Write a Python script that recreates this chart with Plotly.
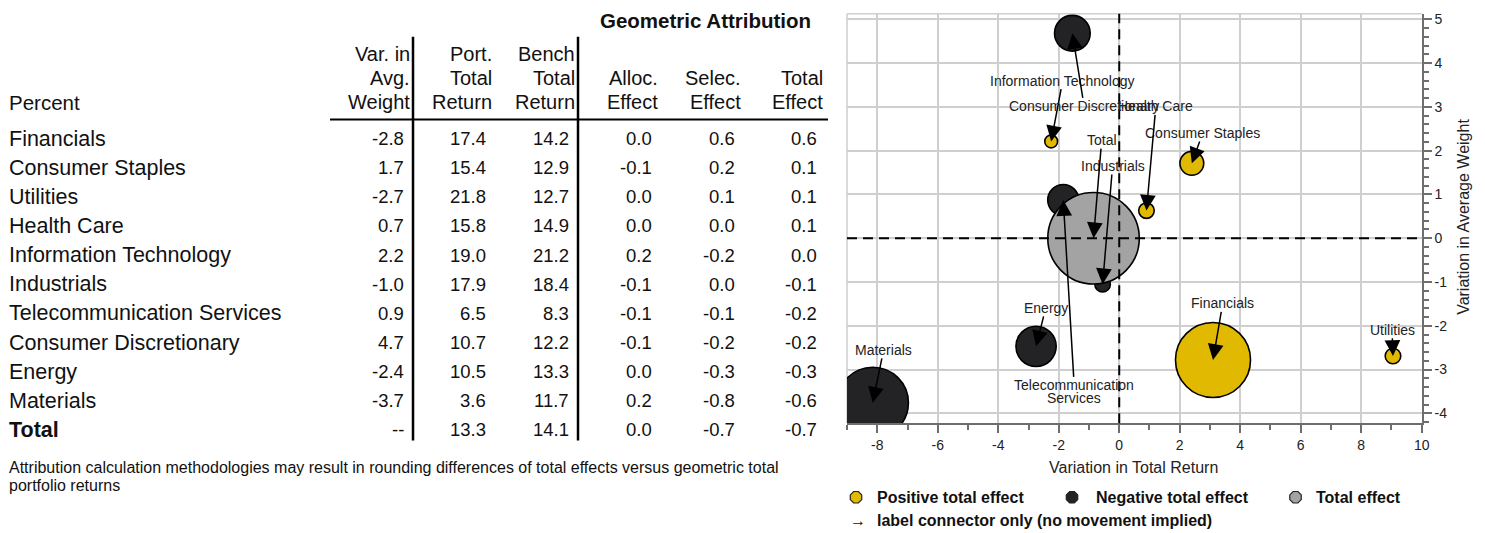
import math
import plotly.graph_objects as go

# ---------------- data (table) ----------------
sectors = ["Financials", "Consumer Staples", "Utilities", "Health Care",
           "Information Technology", "Industrials", "Telecommunication Services",
           "Consumer Discretionary", "Energy", "Materials", "Total"]
var_avg_weight = [-2.8, 1.7, -2.7, 0.7, 2.2, -1.0, 0.9, 4.7, -2.4, -3.7, None]
port_total_return = [17.4, 15.4, 21.8, 15.8, 19.0, 17.9, 6.5, 10.7, 10.5, 3.6, 13.3]
bench_total_return = [14.2, 12.9, 12.7, 14.9, 21.2, 18.4, 8.3, 12.2, 13.3, 11.7, 14.1]
alloc_effect = [0.0, -0.1, 0.0, 0.0, 0.2, -0.1, -0.1, -0.1, 0.0, 0.2, 0.0]
selec_effect = [0.6, 0.2, 0.1, 0.0, -0.2, 0.0, -0.1, -0.2, -0.3, -0.8, -0.7]
total_effect = [0.6, 0.1, 0.1, 0.1, 0.0, -0.1, -0.2, -0.2, -0.3, -0.6, -0.7]

# ---------------- data (bubble chart) ----------------
bubble_return_var = [3.1, 2.4, 9.05, 0.9, -2.25, -0.55, -1.85, -1.55, -2.75, -8.15, -0.85]
bubble_weight_var = [-2.78, 1.71, -2.69, 0.63, 2.21, -1.05, 0.87, 4.68, -2.47, -3.76, 0.0]
bubble_rel_size = [0.82, 0.26, 0.17, 0.17, 0.14, 0.17, 0.34, 0.39, 0.44, 0.78, 1.0]
bubble_group = ["pos", "pos", "pos", "pos", "pos", "neg", "neg", "neg", "neg", "neg", "total"]

x_tick_vals = [-8, -6, -4, -2, 0, 2, 4, 6, 8, 10]
x_tick_text = ["-8", "-6", "-4", "-2", "0", "2", "4", "6", "8", "10"]
y_tick_vals = [-4, -3, -2, -1, 0, 1, 2, 3, 4, 5]
y_tick_text = ["-4", "-3", "-2", "-1", "0", "1", "2", "3", "4", "5"]

legend_labels = ["Positive total effect", "Negative total effect", "Total effect"]
connector_note = "label connector only (no movement implied)"
footnote_lines = ["Attribution calculation methodologies may result in rounding differences of total effects versus geometric total",
                  "portfolio returns"]

# ---------------- styling / layout ----------------
W, H = 1485, 533
OX, OY, SC = 8, 9, 0.9946     # page offset / horizontal scale of the rendered figure
F = "Liberation Sans, Arial, Helvetica, sans-serif"
TXT = "#111111"
COLORS = {"pos": "#E1B900", "neg": "#232326", "total": "#A3A3A3"}
GRID = "#cfcfcf"
AXC = "#6e6e6e"


def px_x(p):
    return ((p - OX) / SC) / W


def px_y(p):
    return 1 - (p - OY) / H


annotations = []
shapes = []


def ann(text, px, py, size, anchor="left", family=F, color=TXT):
    annotations.append(dict(text=text, x=px_x(px), y=px_y(py), xref="paper", yref="paper",
                            xanchor=anchor, yanchor="middle", showarrow=False, borderpad=0,
                            font=dict(family=family, size=size, color=color)))


# ---- table ----
ann("<b>Geometric Attribution</b>", 705.5, 18.5, 20.5, anchor="center")
header_cols = [["Var. in", "Avg.", "Weight"], ["Port.", "Total", "Return"], ["Bench", "Total", "Return"],
               ["", "Alloc.", "Effect"], ["", "Selec.", "Effect"], ["", "Total", "Effect"]]
header_right = [411, 493, 576, 659, 742, 824]
value_right = [405, 487, 570, 653, 736, 818]
header_y = [52.5, 76.5, 101]
for col, xr in zip(header_cols, header_right):
    for line, yy in zip(col, header_y):
        if line:
            ann(line, xr, yy, 20, anchor="right")
ann("Percent", 8, 101, 20.5)

columns = [var_avg_weight, port_total_return, bench_total_return, alloc_effect, selec_effect, total_effect]
for i, name in enumerate(sectors):
    yy = 137.3 + 29.3 * i
    label = "<b>%s</b>" % name if name == "Total" else name
    ann(label, 8, yy, 21.5)
    for col, xr in zip(columns, value_right):
        v = col[i]
        ann("--" if v is None else "%.1f" % v, xr, yy, 18.5, anchor="right")

shapes.append(dict(type="line", xref="paper", yref="paper", x0=px_x(330), x1=px_x(828),
                   y0=px_y(118), y1=px_y(118), line=dict(color="#000", width=2)))
for xv in (413, 578):
    shapes.append(dict(type="line", xref="paper", yref="paper", x0=px_x(xv), x1=px_x(xv),
                       y0=px_y(35), y1=px_y(441), line=dict(color="#000", width=2.5)))

for k, line in enumerate(footnote_lines):
    ann(line, 8, 468 + 18 * k, 16)


# ---- legend ----
def octagon_path(r):
    pts = []
    for k in range(8):
        a = math.radians(22.5 + 45 * k)
        pts.append((r * math.cos(a), r * math.sin(a)))
    return "M" + " L".join("%.2f,%.2f" % p for p in pts) + " Z"


legend_marker_x = [856, 1072, 1295.5]
legend_text_x = [876, 1095, 1315]
for grp, mx, tx, lab in zip(["pos", "neg", "total"], legend_marker_x, legend_text_x, legend_labels):
    shapes.append(dict(type="path", xref="paper", yref="paper", xsizemode="pixel", ysizemode="pixel",
                       xanchor=px_x(mx), yanchor=px_y(498), path=octagon_path(6.2),
                       fillcolor=COLORS[grp], line=dict(color="#222", width=1.2)))
    ann("<b>%s</b>" % lab, tx, 498, 16)
ann("<b>\u2192</b>", 849, 521, 16)
ann("<b>%s</b>" % connector_note, 876, 521, 16)

# ---- chart ----
fig = go.Figure()
for grp in ["pos", "neg", "total"]:
    idx = [i for i, g in enumerate(bubble_group) if g == grp]
    fig.add_trace(go.Scatter(
        x=[bubble_return_var[i] for i in idx],
        y=[bubble_weight_var[i] for i in idx],
        text=[sectors[i] for i in idx],
        mode="markers",
        marker=dict(size=[bubble_rel_size[i] for i in idx], sizemode="diameter", sizeref=1 / 91.5,
                    color=COLORS[grp], opacity=1, line=dict(color="#000", width=1.6)),
        hoverinfo="text", showlegend=False, cliponaxis=True))

label_pos = {
    "Financials": (3.42, -1.49),
    "Consumer Staples": (2.76, 2.40),
    "Utilities": (9.02, -2.09),
    "Health Care": (1.21, 3.01),
    "Information Technology": (-1.87, 3.60),
    "Industrials": (-0.22, 1.65),
    "Telecommunication Services": (-1.49, -3.36),
    "Consumer Discretionary": (-1.16, 3.01),
    "Energy": (-2.43, -1.59),
    "Materials": (-7.79, -2.55),
    "Total": (-0.58, 2.24),
}
for i, name in enumerate(sectors):
    lx, ly = label_pos[name]
    text = "Telecommunication" if name == "Telecommunication Services" else name
    annotations.append(dict(text=text, x=bubble_return_var[i], y=bubble_weight_var[i],
                            xref="x", yref="y", ax=lx, ay=ly, axref="x", ayref="y",
                            showarrow=True, arrowhead=2, arrowsize=2.1, arrowwidth=1.5,
                            arrowcolor="#000", borderpad=0,
                            font=dict(family=F, size=14, color="#222")))
    if name == "Telecommunication Services":
        annotations.append(dict(text="Services", x=lx, y=ly - 0.30, xref="x", yref="y",
                                showarrow=False, borderpad=0,
                                font=dict(family=F, size=14, color="#222")))

# zero dashed lines and light frame
shapes.append(dict(type="line", xref="x", yref="y domain", x0=0, x1=0, y0=0, y1=1, layer="above",
                   line=dict(color="#000", width=2, dash="10px,6px")))
shapes.append(dict(type="line", xref="x domain", yref="y", x0=0, x1=1, y0=0, y1=0, layer="above",
                   line=dict(color="#000", width=2, dash="10px,6px")))
shapes.append(dict(type="line", xref="x domain", yref="y domain", x0=0, x1=1, y0=1, y1=1, layer="below",
                   line=dict(color=GRID, width=1.5)))
shapes.append(dict(type="line", xref="x domain", yref="y domain", x0=0, x1=0, y0=0, y1=1, layer="below",
                   line=dict(color=GRID, width=1.5)))

# axis titles
annotations.append(dict(text="Variation in Total Return", x=px_x(1133), y=px_y(468), xref="paper", yref="paper",
                        showarrow=False, xanchor="center", yanchor="middle",
                        font=dict(family=F, size=16, color="#222")))
annotations.append(dict(text="Variation in Average Weight", x=px_x(1464), y=px_y(216), xref="paper", yref="paper",
                        showarrow=False, xanchor="center", yanchor="middle", textangle=-90,
                        font=dict(family=F, size=16, color="#222")))

fig.update_layout(
    width=W, height=H, autosize=False,
    margin=dict(l=0, r=0, t=0, b=0),
    paper_bgcolor="white", plot_bgcolor="white",
    font=dict(family=F, color=TXT),
    xaxis=dict(domain=[px_x(847), px_x(1421.7)], range=[-9, 10], tickvals=x_tick_vals, ticktext=x_tick_text,
               ticks="outside", ticklen=8, tickwidth=2, tickcolor=AXC, showline=True, linecolor=AXC, linewidth=2,
               showgrid=True, gridcolor=GRID, gridwidth=1.5, zeroline=False, fixedrange=True,
               tickfont=dict(family=F, size=14, color="#222"),
               minor=dict(tick0=-9, dtick=1, ticklen=5, tickwidth=2, tickcolor=AXC, ticks="outside", showgrid=False)),
    yaxis=dict(domain=[px_y(423.7), px_y(11.7)], range=[-4.228, 5.127], side="right",
               tickvals=y_tick_vals, ticktext=y_tick_text,
               ticks="outside", ticklen=8, tickwidth=2, tickcolor=AXC, showline=True, linecolor=AXC, linewidth=2,
               showgrid=True, gridcolor=GRID, gridwidth=1.5, zeroline=False, fixedrange=True,
               tickfont=dict(family=F, size=14, color="#222"),
               minor=dict(tick0=0, dtick=0.2, ticklen=5, tickwidth=2, tickcolor=AXC, ticks="outside", showgrid=False)),
    annotations=annotations,
    shapes=shapes,
)

fig.write_html("out.html")
